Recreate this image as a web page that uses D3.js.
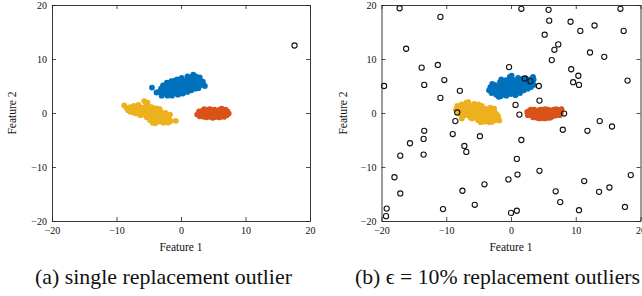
<!DOCTYPE html>
<html>
<head>
<meta charset="utf-8">
<script src="https://cdn.jsdelivr.net/npm/d3@7"></script>
<style>
  body { margin: 0; background: #fff; }
  svg text { font-family: "Liberation Serif", "Times New Roman", "DejaVu Serif", serif !important; fill: #111; }
  .axis .domain { stroke: #222; stroke-width: 0.9; }
  .axis .tick line { stroke: #222; stroke-width: 0.8; }
</style>
</head>
<body>
<div id="chart"></div>
<script>
/**
 * CONSTANTS AND GLOBALS
 * */
const width = 642,
  height = 296,
  top0 = 5,
  bottom0 = 221,
  serif = '"Liberation Serif", "Times New Roman", "DejaVu Serif", serif';

const blue = "#0072BD",
  orange = "#D95319",
  yellow = "#EDB120";

/**
 * DATA
 * */
const axisTicks = [-20, -10, 0, 10, 20];
const xLabel = "Feature 1";
const yLabel = "Feature 2";
const captions = ["(a) single replacement outlier", "(b) \u03F5 = 10% replacement outliers"];

// panel (a)
const leftBlue = [
  [-4.5,4.7],[-3.4,3.9],[-3.0,3.2],[-3.1,4.5],[-2.8,5.1],[-2.6,3.6],[-2.4,4.4],[-2.2,5.6],[-2.1,3.2],
  [-1.8,4.0],[-1.7,5.0],[-1.5,5.9],[-1.4,3.2],[-1.2,3.8],[-1.0,4.6],[-0.8,5.4],[-0.6,6.2],[-0.5,3.4],
  [-0.3,4.2],[-0.1,5.0],[0.1,5.8],[0.1,6.5],[0.3,3.6],[0.5,4.4],[0.6,5.3],[0.8,6.1],[1.0,3.9],[1.1,4.8],
  [1.3,5.7],[1.4,6.6],[1.6,4.2],[1.8,5.1],[1.9,6.1],[1.9,7.1],[2.2,4.5],[2.3,5.5],[2.5,6.4],[2.7,4.6],
  [2.9,5.3],[3.0,6.0],[3.3,5.2],[3.4,5.8],[3.7,5.0],[-2.7,4.1],[-0.1,3.6],[1.0,6.8],[2.3,6.8],[-1.3,5.5],
  [0.2,5.3],[-2.0,4.8],[-3.8,3.8],[2.9,6.6],
  [-2.9,3.7],[-2.3,4.0],[-1.9,3.5],[-1.6,4.4],[-1.1,4.2],[-0.9,5.0],[-0.4,4.6],[-0.4,5.6],[0.0,4.0],
  [0.3,4.9],[0.4,6.0],[0.7,4.5],[0.9,5.6],[1.3,4.4],[1.5,5.3],[1.6,6.2],[2.0,5.6],[2.4,5.0],[2.6,6.0],
  [3.1,5.6],[-2.4,4.8],[-1.0,6.0],[-0.6,3.8],[1.8,4.7]
];
const leftYellow = [
  [-8.8,1.4],[-8.2,0.5],[-7.9,1.1],[-7.6,0.5],[-7.3,1.3],[-7.2,0.0],[-6.9,0.8],[-6.6,1.5],[-6.5,0.2],
  [-6.3,-0.4],[-6.1,1.0],[-5.9,0.4],[-5.7,2.2],[-5.6,-0.2],[-5.4,1.4],[-5.3,-0.8],[-5.1,0.7],[-4.9,0.0],
  [-4.8,-1.3],[-4.6,1.1],[-4.5,-0.6],[-4.3,0.4],[-4.1,-1.2],[-4.0,-1.9],[-3.9,-0.2],[-3.7,0.8],[-3.5,-0.8],
  [-3.3,-1.6],[-3.2,0.3],[-3.0,-0.3],[-2.8,-1.2],[-2.7,-1.8],[-2.5,-0.6],[-2.4,0.0],[-2.2,-1.4],[-1.9,-0.8],
  [-1.7,-0.3],[-1.6,-1.5],[-0.8,-1.45],[-6.0,-0.3],[-5.2,1.9],[-4.4,-1.8],[-7.8,0.2],[-3.6,0.2],[-2.0,-1.8],
  [-5.8,0.9],[-6.8,-0.1],[-3.3,0.7],
  [-8.4,0.9],[-7.4,0.9],[-6.9,0.3],[-6.4,0.8],[-6.1,0.4],[-5.6,0.6],[-5.3,0.1],[-4.9,-0.6],[-4.7,0.4],
  [-4.4,-0.2],[-4.0,-0.7],[-3.8,-1.3],[-3.4,-0.2],[-3.1,-0.9],[-2.7,-0.2],[-2.4,-1.0],[-2.1,-0.5],
  [-5.1,1.3],[-4.2,0.9],[-5.9,-0.1],[-3.5,-1.3],[-1.9,-1.3]
];
const leftOrange = [
  [2.5,-0.3],[2.8,0.3],[2.9,-0.6],[3.2,0.0],[3.4,0.5],[3.5,-0.7],[3.7,-0.1],[3.9,0.5],[4.0,-0.8],
  [4.2,-0.2],[4.3,0.6],[4.5,0.1],[4.6,-0.7],[4.8,0.5],[4.9,-0.9],[5.0,-0.1],[5.2,0.6],[5.3,0.1],
  [5.4,-0.7],[5.6,0.4],[5.7,-0.3],[5.9,-0.8],[6.0,0.6],[6.1,0.0],[6.3,-0.5],[6.3,0.8],[6.5,0.3],
  [6.7,-0.7],[6.8,0.0],[6.9,0.6],[7.1,-0.4],[7.2,0.3],[7.4,-0.1],[3.6,0.7],[5.1,-0.8],[4.5,0.7],
  [6.0,-0.8],[3.1,-0.5],
  [3.0,0.0],[3.5,0.2],[4.0,0.2],[4.3,-0.5],[4.7,0.1],[5.0,-0.5],[5.5,0.0],[5.9,0.2],[6.3,0.3],
  [6.6,-0.3],[7.0,0.0],[4.1,-0.5],[5.4,-0.4],[6.2,-0.2]
];
const leftOutliers = [[17.6,12.5]];

// panel (b)
const rightBlue = [
  [-3.4,4.2],[-3.2,4.8],[-3.0,3.7],[-2.7,4.4],[-2.5,5.2],[-2.3,3.4],[-2.1,4.1],[-1.9,4.9],[-1.7,5.7],
  [-1.6,3.1],[-1.4,3.8],[-1.2,4.6],[-1.0,5.4],[-0.8,6.1],[-0.7,3.2],[-0.5,4.0],[-0.3,4.9],[-0.2,5.7],
  [-0.2,6.7],[0.0,3.5],[0.2,4.4],[0.4,5.3],[0.5,6.1],[0.7,3.3],[0.9,4.1],[1.0,5.0],[1.2,5.9],[1.4,3.7],
  [1.5,4.6],[1.7,5.5],[1.8,6.3],[2.0,4.2],[2.2,5.1],[2.4,5.9],[2.6,4.5],[2.8,5.4],[3.0,6.2],[3.1,4.8],
  [3.3,5.7],[3.4,6.7],[3.5,5.2],[-2.9,5.4],[-1.9,3.0],[0.1,6.9],[1.1,6.5],[2.3,6.4],[-1.5,6.2],[3.5,6.2],
  [-3.0,4.4],[-2.5,3.9],[-2.2,4.7],[-1.8,4.4],[-1.5,5.1],[-1.2,3.4],[-0.9,4.3],[-0.7,5.0],[-0.5,5.8],
  [-0.2,4.4],[0.1,5.0],[0.3,5.9],[0.4,3.9],[0.7,4.7],[0.9,5.5],[1.2,4.3],[1.4,5.1],[1.6,6.0],[1.9,4.9],
  [2.1,5.6],[2.6,5.1],[2.9,5.8],[3.2,5.3],[-2.6,4.8],[0.0,6.3]
];
const rightYellow = [
  [-8.5,0.6],[-8.3,1.3],[-8.0,-0.1],[-7.9,0.7],[-7.6,1.6],[-7.5,-0.6],[-7.3,0.3],[-7.1,1.1],[-6.9,1.9],
  [-6.8,-0.4],[-6.6,0.5],[-6.4,1.3],[-6.2,-0.9],[-6.1,0.1],[-5.9,1.0],[-5.7,1.7],[-5.6,-0.5],[-5.4,0.4],
  [-5.2,1.2],[-5.1,-1.3],[-4.9,-0.2],[-4.7,0.7],[-4.5,1.3],[-4.4,-0.9],[-4.2,0.1],[-4.0,-1.6],[-3.9,0.8],
  [-3.7,-0.5],[-3.5,0.3],[-3.4,-1.2],[-3.2,1.0],[-3.0,-0.2],[-2.9,-1.6],[-2.7,0.5],[-2.6,-0.8],[-2.3,-0.1],
  [-2.2,-1.3],[-2.0,-0.6],[-1.8,-1.4],[-7.6,-1.0],[-6.6,2.0],[-5.0,1.6],[-4.7,-1.7],[-3.3,-1.7],[-2.6,0.8],
  [-6.0,-1.0],[-7.0,0.8],
  [-8.1,0.7],[-7.7,0.2],[-7.4,1.2],[-7.0,0.0],[-6.8,1.0],[-6.4,0.0],[-6.1,0.7],[-5.8,-0.1],[-5.5,0.9],
  [-5.3,-0.8],[-5.0,0.3],[-4.7,-0.6],[-4.5,0.4],[-4.1,-0.5],[-3.8,-1.0],[-3.6,0.0],[-3.2,-0.6],[-2.9,0.1],
  [-2.5,-1.3],[-2.3,-0.6],[-2.0,-1.0],[-4.3,-1.3],[-6.4,-0.5],[-5.2,-0.2]
];
const rightOrange = [
  [2.5,0.2],[2.6,-0.4],[2.9,0.5],[3.0,-0.3],[3.3,0.1],[3.4,-0.8],[3.6,0.6],[3.8,-0.2],[4.0,-0.9],
  [4.1,0.4],[4.3,-0.4],[4.5,0.6],[4.7,-0.9],[4.8,0.0],[5.0,0.6],[5.2,-0.5],[5.4,0.3],[5.6,-0.9],
  [5.7,0.6],[5.9,-0.2],[6.1,0.5],[6.3,-0.7],[6.4,0.1],[6.6,0.6],[6.8,-0.5],[7.0,0.2],[7.2,-0.3],
  [7.4,0.5],[7.7,0.0],[7.8,0.7],[3.1,0.6],[4.4,-1.0],[5.3,0.7],[6.0,-0.9],[7.0,0.7],[7.5,-0.4],
  [2.8,0.0],[3.2,-0.3],[3.6,0.0],[4.0,-0.3],[4.4,0.0],[4.6,-0.4],[5.0,0.1],[5.3,-0.1],[5.7,0.0],
  [6.0,-0.5],[6.2,0.2],[6.6,-0.1],[7.0,-0.2],[7.4,0.1],[3.7,-0.6],[5.2,-1.0]
];
const rightOutliers = [
  [-17.2,19.4],[-10.9,17.8],[-16.2,11.9],[-13.8,8.4],[-11.3,8.9],[-10.3,6.1],[-19.6,5.0],[-13.4,5.2],
  [-7.9,4.1],[-10.9,2.8],[-0.3,8.5],[-8.3,0.1],[1.6,19.3],[5.8,19.1],[16.9,19.3],[5.9,17.1],[9.2,16.9],
  [12.9,16.2],[10.7,15.2],[17.4,15.2],[5.2,14.5],[7.3,12.7],[6.7,11.7],[12.2,11.2],[14.4,10.4],[6.3,9.8],
  [9.3,8.1],[10.4,6.9],[18.0,6.0],[9.6,5.7],[10.5,5.2],[4.3,5.0],[3.0,5.9],[2.1,6.4],[4.4,2.3],[0.7,1.5],
  [1.3,-0.3],[8.2,-0.1],[-8.6,-1.5],[-13.4,-3.3],[-9.0,-3.9],[-4.8,-4.3],[-13.5,-4.8],[-15.6,-5.6],
  [-7.2,-6.1],[-6.9,-7.2],[-17.1,-7.9],[-13.5,-7.7],[-18.0,-11.9],[-17.1,-14.9],[-7.5,-14.4],[-4.1,-13.2],
  [-0.4,-12.3],[-5.6,-17.0],[-10.5,-17.8],[-19.2,-17.7],[-19.3,-19.1],[0.0,-18.5],[0.9,-18.1],
  [13.7,-1.5],[15.6,-2.5],[8.0,-3.1],[11.8,-3.3],[1.6,-5.0],[0.9,-8.5],[1.0,-11.4],[4.4,-10.7],
  [11.3,-12.6],[18.5,-11.5],[6.9,-14.5],[13.6,-14.6],[15.2,-13.8],[7.6,-16.5],[10.5,-18.0],[17.6,-17.4]
];

const panels = [
  { left: 52, right: 310, caption: captions[0], capX: 163.5, capW: 257, yLabelX: 12,
    clusters: [[leftBlue, blue], [leftYellow, yellow], [leftOrange, orange]], outliers: leftOutliers },
  { left: 381.5, right: 640.5, caption: captions[1], capX: 497.5, capW: 285, yLabelX: 343,
    clusters: [[rightBlue, blue], [rightYellow, yellow], [rightOrange, orange]], outliers: rightOutliers },
];

/**
 * DRAW
 * */
const svg = d3.select("#chart")
  .append("svg")
  .attr("width", width)
  .attr("height", height)
  .attr("font-family", serif);

panels.forEach(p => drawPanel(p));

function drawPanel(p) {
  const x = d3.scaleLinear().domain([-20, 20]).range([p.left, p.right]);
  const y = d3.scaleLinear().domain([-20, 20]).range([bottom0, top0]);
  const g = svg.append("g");

  // markers
  p.clusters.forEach(([pts, color]) => {
    g.append("g")
      .selectAll("circle")
      .data(pts)
      .join("circle")
      .attr("cx", d => x(d[0]))
      .attr("cy", d => y(d[1]))
      .attr("r", 2.9)
      .attr("fill", color);
  });

  g.append("g")
    .selectAll("circle")
    .data(p.outliers)
    .join("circle")
    .attr("cx", d => x(d[0]))
    .attr("cy", d => y(d[1]))
    .attr("r", 2.6)
    .attr("fill", "none")
    .attr("stroke", "#111")
    .attr("stroke-width", 1.1);

  // axes, ticks point inward on all four sides
  g.append("g").attr("class", "axis")
    .attr("transform", `translate(0,${bottom0})`)
    .call(d3.axisBottom(x).tickValues(axisTicks).tickSizeInner(-4).tickSizeOuter(0).tickPadding(6))
    .call(a => a.attr("font-family", serif).selectAll("text").attr("font-size", 10));
  g.append("g").attr("class", "axis")
    .attr("transform", `translate(0,${top0})`)
    .call(d3.axisTop(x).tickValues(axisTicks).tickSizeInner(-4).tickSizeOuter(0).tickFormat(""));
  g.append("g").attr("class", "axis")
    .attr("transform", `translate(${p.left},0)`)
    .call(d3.axisLeft(y).tickValues(axisTicks).tickSizeInner(-4).tickSizeOuter(0).tickPadding(5))
    .call(a => a.attr("font-family", serif).selectAll("text").attr("font-size", 10));
  g.append("g").attr("class", "axis")
    .attr("transform", `translate(${p.right},0)`)
    .call(d3.axisRight(y).tickValues(axisTicks).tickSizeInner(-4).tickSizeOuter(0).tickFormat(""));

  // axis labels
  g.append("text")
    .attr("x", (p.left + p.right) / 2)
    .attr("y", 251)
    .attr("text-anchor", "middle")
    .attr("font-size", 11.5)
    .text(xLabel);
  g.append("text")
    .attr("transform", `translate(${p.yLabelX + 4},${(top0 + bottom0) / 2}) rotate(-90)`)
    .attr("text-anchor", "middle")
    .attr("font-size", 11.5)
    .text(yLabel);

  // caption, sized to the width it takes in the reference
  const cap = g.append("text")
    .attr("x", p.capX)
    .attr("y", 284)
    .attr("text-anchor", "middle")
    .attr("font-size", 20)
    .text(p.caption);
  const w = cap.node().getComputedTextLength();
  if (w > 0) cap.attr("font-size", Math.min(24, 20 * p.capW / w));
}
</script>
</body>
</html>
